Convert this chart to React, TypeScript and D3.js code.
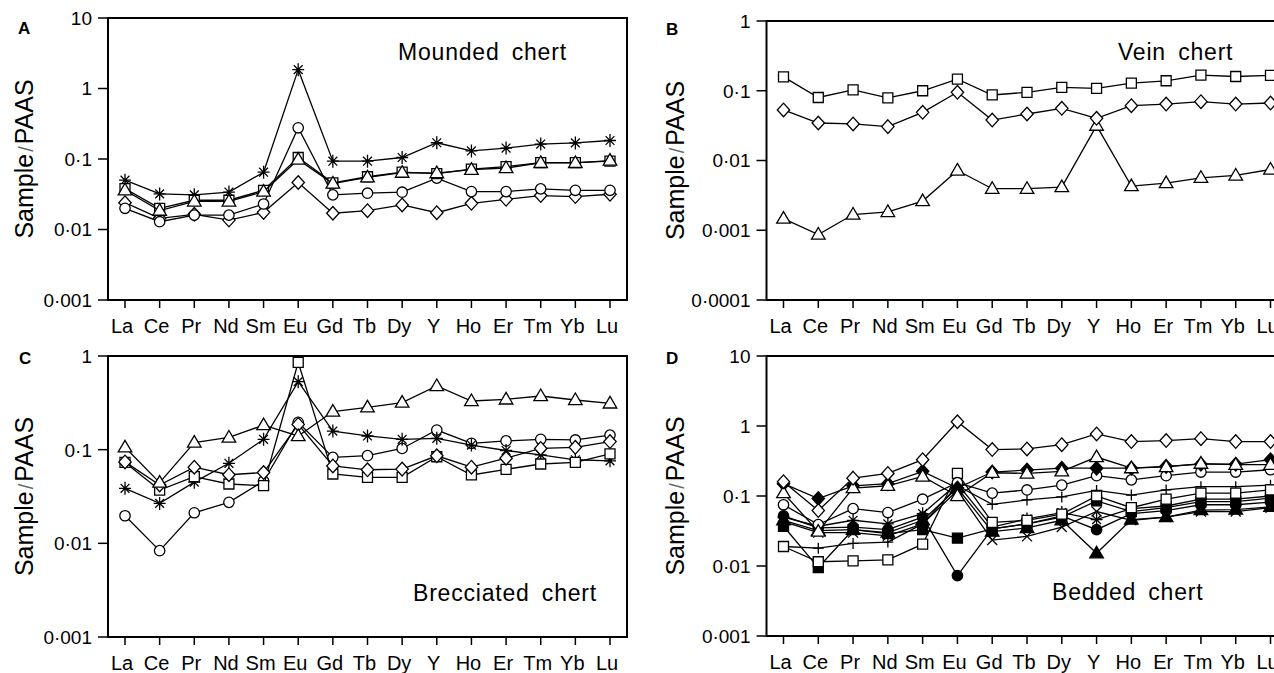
import React from "react";
import * as d3 from "d3";

const elements = ["La", "Ce", "Pr", "Nd", "Sm", "Eu", "Gd", "Tb", "Dy", "Y", "Ho", "Er", "Tm", "Yb", "Lu"];

// Panel A — Mounded chert
const aStar = [0.05, 0.032, 0.031, 0.034, 0.065, 1.85, 0.093, 0.093, 0.105, 0.17, 0.13, 0.143, 0.163, 0.169, 0.183];
const aSquare = [0.038, 0.02, 0.026, 0.026, 0.036, 0.105, 0.046, 0.056, 0.065, 0.062, 0.072, 0.078, 0.089, 0.089, 0.093];
const aTriangle = [0.036, 0.0185, 0.025, 0.025, 0.0345, 0.098, 0.045, 0.055, 0.064, 0.063, 0.0705, 0.0745, 0.088, 0.088, 0.095];
const aCircle = [0.02, 0.0129, 0.016, 0.016, 0.023, 0.277, 0.031, 0.0327, 0.0338, 0.0535, 0.0345, 0.0345, 0.0377, 0.036, 0.036];
const aDiamond = [0.024, 0.0144, 0.0164, 0.0136, 0.0175, 0.0464, 0.017, 0.0185, 0.0223, 0.0173, 0.0235, 0.0268, 0.0303, 0.0293, 0.0316];

// Panel B — Vein chert
const bSquare = [0.158, 0.08, 0.103, 0.079, 0.1, 0.147, 0.087, 0.095, 0.112, 0.108, 0.129, 0.139, 0.167, 0.16, 0.166];
const bDiamond = [0.053, 0.0345, 0.0334, 0.0306, 0.049, 0.095, 0.038, 0.0464, 0.056, 0.0403, 0.061, 0.0645, 0.0697, 0.0645, 0.0667];
const bTriangle = [0.00147, 0.00087, 0.00168, 0.00183, 0.00262, 0.0072, 0.00394, 0.00394, 0.00416, 0.0316, 0.0043, 0.00474, 0.00565, 0.0061, 0.00743];

// Panel C — Brecciated chert
const cTriangle = [0.106, 0.0445, 0.119, 0.135, 0.183, 0.14, 0.255, 0.283, 0.318, 0.478, 0.331, 0.344, 0.374, 0.339, 0.312];
const cSquare = [0.073, 0.037, 0.0515, 0.043, 0.0413, 0.855, 0.055, 0.0507, 0.0507, 0.084, 0.0537, 0.0617, 0.0703, 0.0733, 0.09];
const cDiamond = [0.074, 0.042, 0.065, 0.054, 0.057, 0.186, 0.067, 0.061, 0.062, 0.086, 0.065, 0.081, 0.103, 0.106, 0.122];
const cCircle = [0.0197, 0.00835, 0.0212, 0.0274, 0.0463, 0.196, 0.0828, 0.0863, 0.103, 0.162, 0.117, 0.124, 0.129, 0.127, 0.143];
const cStar = [0.0387, 0.0267, 0.045, 0.0715, 0.129, 0.532, 0.158, 0.14, 0.129, 0.132, 0.112, 0.098, 0.088, 0.078, 0.076];

// Panel D — Bedded chert
const dDiamondOpen = [0.16, 0.062, 0.18, 0.21, 0.33, 1.15, 0.46, 0.47, 0.54, 0.77, 0.6, 0.62, 0.66, 0.6, 0.6];
const dDiamondFilled = [0.15, 0.092, 0.14, 0.15, 0.225, 0.13, 0.22, 0.235, 0.25, 0.25, 0.25, 0.265, 0.285, 0.285, 0.33];
const dTriangleOpen = [0.11, 0.031, 0.13, 0.14, 0.19, 0.1, 0.215, 0.21, 0.225, 0.36, 0.25, 0.26, 0.29, 0.28, 0.28];
const dCircleOpen = [0.075, 0.039, 0.066, 0.058, 0.09, 0.155, 0.11, 0.122, 0.143, 0.195, 0.17, 0.195, 0.22, 0.22, 0.237];
const dPlus = [0.019, 0.018, 0.021, 0.022, 0.04, 0.14, 0.076, 0.088, 0.097, 0.12, 0.103, 0.122, 0.136, 0.136, 0.143];
const dSquareOpen = [0.019, 0.0115, 0.0118, 0.0122, 0.0205, 0.21, 0.042, 0.045, 0.055, 0.1, 0.068, 0.09, 0.11, 0.11, 0.122];
const dStar = [0.05, 0.037, 0.045, 0.04, 0.056, 0.15, 0.036, 0.047, 0.058, 0.046, 0.066, 0.072, 0.09, 0.09, 0.1];
const dSquareFilled = [0.037, 0.0095, 0.033, 0.029, 0.033, 0.025, 0.034, 0.04, 0.05, 0.085, 0.06, 0.068, 0.083, 0.083, 0.093];
const dCircleFilled = [0.052, 0.035, 0.036, 0.033, 0.05, 0.0073, 0.034, 0.04, 0.052, 0.033, 0.056, 0.062, 0.075, 0.075, 0.082];
const dTriangleFilled = [0.045, 0.032, 0.033, 0.03, 0.045, 0.13, 0.031, 0.035, 0.045, 0.0152, 0.046, 0.05, 0.063, 0.064, 0.07];
const dTimes = [0.043, 0.03, 0.03, 0.027, 0.04, 0.12, 0.0235, 0.0265, 0.036, 0.06, 0.045, 0.05, 0.06, 0.06, 0.068];

// y ticks
const ticks4A = [0.001, 0.01, 0.1, 1, 10];
const tickLabels4A = ["0·001", "0·01", "0·1", "1", "10"];
const ticks4B = [0.0001, 0.001, 0.01, 0.1, 1];
const tickLabels4B = ["0·0001", "0·001", "0·01", "0·1", "1"];
const ticks3 = [0.001, 0.01, 0.1, 1];
const tickLabels3 = ["0·001", "0·01", "0·1", "1"];

type Marker = "circle" | "square" | "triangle" | "diamond" | "star" | "plus" | "times";
interface Series { values: number[]; marker: Marker; filled?: boolean; }

const FONT = "'Liberation Sans', Arial, Helvetica, sans-serif";

function markerPath(m: Marker): string {
  switch (m) {
    case "circle": {
      const r = 5.2;
      return `M${-r},0A${r},${r} 0 1,0 ${r},0A${r},${r} 0 1,0 ${-r},0Z`;
    }
    case "square":
      return "M-5,-5H5V5H-5Z";
    case "triangle":
      return "M0,-7L6.8,4.6L-6.8,4.6Z";
    case "diamond":
      return "M0,-6.8L6.2,0L0,6.8L-6.2,0Z";
    case "star":
      return "M0,-6.5V6.5M-6,0H6M-4.4,-4.4L4.4,4.4M-4.4,4.4L4.4,-4.4";
    case "plus":
      return "M0,-5.5V5.5M-5.5,0H5.5";
    case "times":
      return "M-5,-5L5,5M-5,5L5,-5";
  }
}

interface PanelProps {
  left: number; top: number; width: number; height: number;
  yMin: number; yMax: number;
  tickVals: number[]; tickLabels: string[];
  series: Series[];
  letter: string; letterX: number; letterY: number;
  note: string; noteX: number; noteY: number;
  titleX: number;
}

function Panel(p: PanelProps) {
  const x = d3.scalePoint<string>().domain(elements).range([p.left + 17, p.left + p.width - 17]);
  const y = d3.scaleLog().domain([p.yMin, p.yMax]).range([p.top + p.height, p.top]);
  const line = d3.line<number>().x((_, i) => x(elements[i]) as number).y((d) => y(d));
  const bottom = p.top + p.height;
  return (
    <g>
      {p.series.map((s, si) => (
        <g key={si}>
          <path d={line(s.values) || ""} fill="none" stroke="#000" strokeWidth={1.3} />
          {s.values.map((v, i) => (
            <path
              key={i}
              d={markerPath(s.marker)}
              transform={`translate(${x(elements[i])},${y(v)})`}
              fill={s.filled ? "#000" : (s.marker === "star" || s.marker === "plus" || s.marker === "times") ? "none" : "#fff"}
              stroke="#000"
              strokeWidth={1.3}
            />
          ))}
        </g>
      ))}
      <rect x={p.left} y={p.top} width={p.width} height={p.height} fill="none" stroke="#000" strokeWidth={2} />
      {p.tickVals.map((t, i) => (
        <g key={i}>
          <line x1={p.left - 10} x2={p.left} y1={y(t)} y2={y(t)} stroke="#000" strokeWidth={1.5} />
          <text x={p.left - 16} y={y(t)} dy="0.36em" textAnchor="end" fontSize={19} fontFamily={FONT} fill="#000">
            {p.tickLabels[i]}
          </text>
        </g>
      ))}
      {elements.map((e) => (
        <g key={e}>
          <line x1={x(e)} x2={x(e)} y1={bottom} y2={bottom + 8} stroke="#000" strokeWidth={1.5} />
          <text x={(x(e) as number) - 3} y={bottom + 33} textAnchor="middle" fontSize={20} fontFamily={FONT} fill="#000">
            {e}
          </text>
        </g>
      ))}
      <text
        transform={`translate(${p.titleX},${p.top + p.height / 2}) rotate(-90)`}
        textAnchor="middle"
        fontSize={25}
        fontFamily={FONT}
        fill="#000"
      >
        Sample<tspan fill="#666" fontSize={20} dx={2}>/</tspan><tspan dx={2}>PAAS</tspan>
      </text>
      <text x={p.letterX} y={p.letterY} fontSize={17} fontWeight="bold" fontFamily={FONT} fill="#000">
        {p.letter}
      </text>
      <text x={p.noteX} y={p.noteY} fontSize={23} fontFamily={FONT} fill="#000" letterSpacing={0.8} wordSpacing={5}>
        {p.note}
      </text>
    </g>
  );
}

export default function App() {
  const seriesA: Series[] = [
    { values: aDiamond, marker: "diamond" },
    { values: aCircle, marker: "circle" },
    { values: aStar, marker: "star" },
    { values: aSquare, marker: "square" },
    { values: aTriangle, marker: "triangle" },
  ];
  const seriesB: Series[] = [
    { values: bTriangle, marker: "triangle" },
    { values: bDiamond, marker: "diamond" },
    { values: bSquare, marker: "square" },
  ];
  const seriesC: Series[] = [
    { values: cCircle, marker: "circle" },
    { values: cStar, marker: "star" },
    { values: cSquare, marker: "square" },
    { values: cDiamond, marker: "diamond" },
    { values: cTriangle, marker: "triangle" },
  ];
  const seriesD: Series[] = [
    { values: dTimes, marker: "times" },
    { values: dTriangleFilled, marker: "triangle", filled: true },
    { values: dCircleFilled, marker: "circle", filled: true },
    { values: dSquareFilled, marker: "square", filled: true },
    { values: dStar, marker: "star" },
    { values: dPlus, marker: "plus" },
    { values: dSquareOpen, marker: "square" },
    { values: dCircleOpen, marker: "circle" },
    { values: dDiamondFilled, marker: "diamond", filled: true },
    { values: dTriangleOpen, marker: "triangle" },
    { values: dDiamondOpen, marker: "diamond" },
  ];
  return (
    <svg
      width={1274}
      height={673}
      style={{ position: "absolute", left: 0, top: 0, background: "#fff" }}
    >
      <rect width={1274} height={673} fill="#fff" />
      <Panel left={108} top={18} width={519} height={282} yMin={0.001} yMax={10}
        tickVals={ticks4A} tickLabels={tickLabels4A} series={seriesA}
        letter="A" letterX={18} letterY={34} note="Mounded chert" noteX={398} noteY={60} titleX={33} />
      <Panel left={766.5} top={21} width={521} height={279} yMin={0.0001} yMax={1}
        tickVals={ticks4B} tickLabels={tickLabels4B} series={seriesB}
        letter="B" letterX={666} letterY={35} note="Vein chert" noteX={1118} noteY={60} titleX={684} />
      <Panel left={108} top={356} width={519} height={281} yMin={0.001} yMax={1}
        tickVals={ticks3} tickLabels={tickLabels3} series={seriesC}
        letter="C" letterX={19} letterY={364} note="Brecciated chert" noteX={413} noteY={601} titleX={33} />
      <Panel left={766.5} top={356} width={521} height={280} yMin={0.001} yMax={10}
        tickVals={ticks4A} tickLabels={tickLabels4A} series={seriesD}
        letter="D" letterX={666} letterY={364} note="Bedded chert" noteX={1052} noteY={600} titleX={684} />
    </svg>
  );
}
